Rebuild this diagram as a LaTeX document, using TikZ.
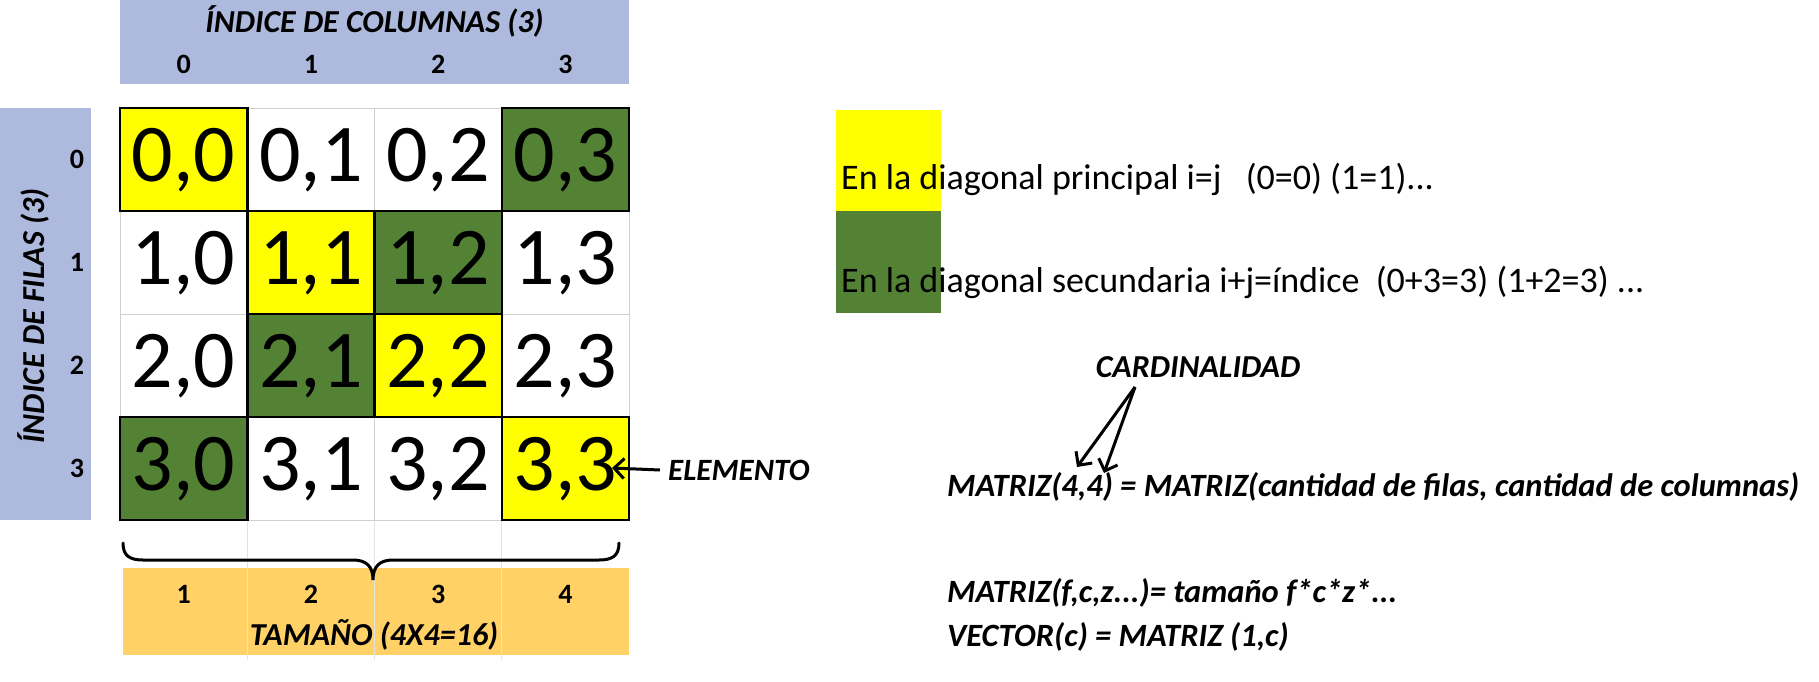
\documentclass[tikz,border=0pt]{standalone}
\usepackage{fontspec}
\setmainfont{Carlito}
\usetikzlibrary{arrows.meta}
\tikzset {>=Stealth}

\definecolor{amarillo}{HTML}{FFFF00}
\definecolor{verde}{HTML}{548235}
\definecolor{azulcab}{HTML}{ADB9DD}
\definecolor{naranja}{HTML}{FFD166}
\definecolor{rejilla}{HTML}{D0D0D0}

\tikzset{
  celda/.style={inner sep=0pt, font=\fontsize{82}{82}\selectfont},
  cabecera/.style={inner sep=0pt, font=\bfseries\itshape\fontsize{32}{32}\selectfont},
  indice/.style={inner sep=0pt, font=\bfseries\fontsize{28}{28}\selectfont},
  nota/.style={inner sep=0pt, anchor=west, font=\bfseries\itshape\fontsize{32.5}{32.5}\selectfont},
  leyenda/.style={inner sep=0pt, anchor=base west, font=\fontsize{36}{36}\selectfont},
  flecha/.style={->, line width=3pt, >={Straight Barb[length=10pt,width=20pt]}}
}

\begin{document}
\begin{tikzpicture}[x=1pt,y=-1pt]
\useasboundingbox[fill=white] (0,0) rectangle (1819,682);

% cabeceras
\fill[azulcab] (120,0) rectangle (629,84);
\fill[azulcab] (0,108) rectangle (91,520);
\fill[naranja] (123,568) rectangle (629,655);
\foreach \x in {247.25,374.5,501.75}
  \draw[rejilla!60, line width=0.6pt] (\x,520) -- (\x,660);

\node[cabecera] (titcol) at (374.5,21) {ÍNDICE DE COLUMNAS (3)};
\node[cabecera, rotate=90] (titfil) at (33,316) {ÍNDICE DE FILAS (3)};
\node[cabecera] (tittam) at (374,635) {TAMAÑO (4X4=16)};

\foreach \c in {0,...,3} {
  \pgfmathtruncatemacro\t{\c+1}
  \node[indice] (col\c) at (183.6+127.25*\c,64) {\c};
  \node[indice] (fil\c) at (77,159.5+103*\c) {\c};
  \node[indice] (tam\c) at (183.6+127.25*\c,594) {\t};
}

% matriz
\foreach \i in {0,...,4} {
  \draw[rejilla] (120+127.25*\i,108) -- (120+127.25*\i,520);
  \draw[rejilla] (120,108+103*\i) -- (629,108+103*\i);
}
\foreach \r/\c/\fondo in {0/0/amarillo,1/1/amarillo,2/2/amarillo,3/3/amarillo,
                          0/3/verde,1/2/verde,2/1/verde,3/0/verde}
  \filldraw[fill=\fondo, draw=black, line width=2.5pt]
    (120+127.25*\c,108+103*\r) rectangle ++(127.25,103);
\foreach \r in {0,...,3}
  \foreach \c in {0,...,3}
    \node[celda] (c\r\c) at (183.6+127.25*\c,160+103*\r) {\r,\c};

% llave
\draw[line width=3pt, line cap=round] (123,543)
  .. controls (123,556) and (130,560) .. (143,560) -- (353,560)
  .. controls (366,560) and (373,566) .. (373,580)
  .. controls (373,566) and (380,560) .. (393,560) -- (599,560)
  .. controls (612,560) and (619,556) .. (619,543);

\node[cabecera, anchor=west, font=\bfseries\itshape\fontsize{31}{31}\selectfont] (elemento) at (668,470) {ELEMENTO};
\coordinate (punta) at (612,468);
\draw[flecha] ([xshift=-8pt]elemento.west) -- (punta);

% leyenda
\fill[amarillo] (836,110) rectangle (941,211);
\fill[verde] (836,211) rectangle (941,313);
\node[leyenda] (leyprin) at (841,189) {En la diagonal principal i=j\ \ \ (0=0) (1=1)...};
\node[leyenda] (leysec) at (841,292) {En la diagonal secundaria i+j=índice\ \ (0+3=3) (1+2=3) ...};

% notas
\node[cabecera] (card) at (1198,367) {CARDINALIDAD};
\node[nota] (matriz) at (947,487) {MATRIZ(4,4) = MATRIZ(cantidad de filas, cantidad de columnas)};
\node[nota] (tamano) at (947,593) {MATRIZ(f,c,z...)= tamaño f*c*z*...};
\node[nota] (vector) at (947,637) {VECTOR(c) = MATRIZ (1,c)};

\coordinate (origen) at (1135,387);
\coordinate (cuatroA) at (1077,467);
\coordinate (cuatroB) at (1104,473);
\draw[flecha] (origen) -- (cuatroA);
\draw[flecha] (origen) -- (cuatroB);
\end{tikzpicture}
\end{document}
